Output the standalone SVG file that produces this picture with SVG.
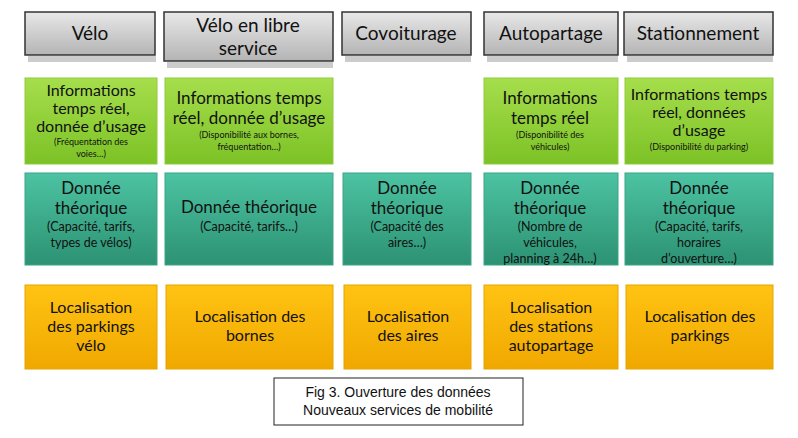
<svg xmlns="http://www.w3.org/2000/svg" width="798" height="438" viewBox="0 0 798 438">
<defs>
<linearGradient id="gh" x1="0" y1="0" x2="0" y2="1"><stop offset="0" stop-color="#e8e8e8"/><stop offset="1" stop-color="#b4b4b4"/></linearGradient>
<linearGradient id="gg" x1="0" y1="0" x2="0" y2="1"><stop offset="0" stop-color="#a6de4c"/><stop offset="1" stop-color="#7cc226"/></linearGradient>
<linearGradient id="gt" x1="0" y1="0" x2="0" y2="1"><stop offset="0" stop-color="#4cc3a2"/><stop offset="1" stop-color="#2c9273"/></linearGradient>
<linearGradient id="go" x1="0" y1="0" x2="0" y2="1"><stop offset="0" stop-color="#ffc313"/><stop offset="1" stop-color="#f0a800"/></linearGradient>
</defs>
<style>
text{font-family:Lato,"Open Sans","Liberation Sans",sans-serif;fill:#111;text-anchor:middle}
.h{fill:url(#gh);stroke:#333;stroke-width:1.5}
.sh{fill:#ccc}
.g{fill:url(#gg);stroke:#8fcb3a;stroke-width:1}
.t{fill:url(#gt);stroke:#3aa585;stroke-width:1}
.o{fill:url(#go);stroke:#e6a400;stroke-width:1}
.ht{font-size:19px}
.b{font-size:16px}
.bl{font-size:17px}
.s{font-size:9px}
.m{font-size:12.5px}
.c{font-family:"Liberation Sans",Arial,sans-serif;font-size:14px}
</style>
<g id="headers">
<g id="h1"><rect class="sh" x="28" y="56" width="128" height="6"/><rect class="h" x="25" y="12" width="130" height="43"/><text class="ht" x="90" y="40">Vélo</text></g>
<g id="h2"><rect class="sh" x="167" y="62" width="166" height="6"/><rect class="h" x="164" y="12" width="169" height="49"/><text class="ht" x="248" y="32">Vélo en libre</text><text class="ht" x="248" y="55">service</text></g>
<g id="h3"><rect class="sh" x="345" y="56" width="126" height="6"/><rect class="h" x="342" y="12" width="129" height="43"/><text class="ht" x="406" y="40">Covoiturage</text></g>
<g id="h4"><rect class="sh" x="487" y="56" width="131" height="6"/><rect class="h" x="484" y="12" width="134" height="43"/><text class="ht" x="551" y="40">Autopartage</text></g>
<g id="h5"><rect class="sh" x="627" y="56" width="146" height="6"/><rect class="h" x="624" y="12" width="149" height="43"/><text class="ht" x="698" y="40">Stationnement</text></g>
</g>
<g id="green">
<g id="g1"><rect class="g" x="25" y="78" width="132" height="86"/><text class="b" x="91" y="96">Informations</text><text class="b" x="91" y="114">temps réel,</text><text class="b" x="91" y="132">donnée d’usage</text><text class="s" x="91" y="145">(Fréquentation des</text><text class="s" x="91" y="157">voies…)</text></g>
<g id="g2"><rect class="g" x="165" y="78" width="168" height="86"/><text class="bl" x="249" y="104">Informations temps</text><text class="bl" x="249" y="124">réel, donnée d’usage</text><text class="s" x="249" y="138">(Disponibilité aux bornes,</text><text class="s" x="249" y="150">fréquentation…)</text></g>
<g id="g4"><rect class="g" x="484" y="78" width="134" height="86"/><text class="bl" x="550" y="104">Informations</text><text class="bl" x="550" y="124">temps réel</text><text class="s" x="550" y="138">(Disponibilité des</text><text class="s" x="550" y="150">véhicules)</text></g>
<g id="g5"><rect class="g" x="625" y="78" width="148" height="86"/><text class="b" x="699" y="100">Informations temps</text><text class="b" x="699" y="118">réel, données</text><text class="b" x="699" y="136">d’usage</text><text class="s" x="699" y="150">(Disponibilité du parking)</text></g>
</g>
<g id="teal">
<g id="t1"><rect class="t" x="25" y="173" width="132" height="92"/><text class="bl" x="91" y="194">Donnée</text><text class="bl" x="91" y="214">théorique</text><text class="m" x="91" y="231">(Capacité, tarifs,</text><text class="m" x="91" y="247">types de vélos)</text></g>
<g id="t2"><rect class="t" x="165" y="173" width="168" height="92"/><text class="bl" x="249" y="213">Donnée théorique</text><text class="m" x="249" y="231">(Capacité, tarifs…)</text></g>
<g id="t3"><rect class="t" x="343" y="173" width="128" height="92"/><text class="bl" x="407" y="194">Donnée</text><text class="bl" x="407" y="214">théorique</text><text class="m" x="407" y="231">(Capacité des</text><text class="m" x="407" y="247">aires…)</text></g>
<g id="t4"><rect class="t" x="484" y="173" width="134" height="92"/><text class="bl" x="550" y="194">Donnée</text><text class="bl" x="550" y="214">théorique</text><text class="m" x="550" y="231">(Nombre de</text><text class="m" x="550" y="247">véhicules,</text><text class="m" x="550" y="263">planning à 24h…)</text></g>
<g id="t5"><rect class="t" x="625" y="173" width="148" height="92"/><text class="bl" x="699" y="194">Donnée</text><text class="bl" x="699" y="214">théorique</text><text class="m" x="699" y="231">(Capacité, tarifs,</text><text class="m" x="699" y="247">horaires</text><text class="m" x="699" y="263">d’ouverture…)</text></g>
</g>
<g id="orange">
<g id="o1"><rect class="o" x="25" y="285" width="132" height="84"/><text class="b" x="91" y="313">Localisation</text><text class="b" x="91" y="332">des parkings</text><text class="b" x="91" y="351">vélo</text></g>
<g id="o2"><rect class="o" x="166" y="285" width="167" height="84"/><text class="b" x="250" y="322">Localisation des</text><text class="b" x="250" y="341">bornes</text></g>
<g id="o3"><rect class="o" x="344" y="285" width="127" height="84"/><text class="b" x="408" y="322">Localisation</text><text class="b" x="408" y="341">des aires</text></g>
<g id="o4"><rect class="o" x="484" y="285" width="134" height="84"/><text class="b" x="551" y="313">Localisation</text><text class="b" x="551" y="332">des stations</text><text class="b" x="551" y="351">autopartage</text></g>
<g id="o5"><rect class="o" x="626" y="285" width="147" height="84"/><text class="b" x="700" y="322">Localisation des</text><text class="b" x="700" y="341">parkings</text></g>
</g>
<g id="caption"><rect x="274" y="378" width="249" height="47" fill="#fff" stroke="#222" stroke-width="1"/><text class="c" x="398" y="397">Fig 3. Ouverture des données</text><text class="c" x="398" y="415">Nouveaux services de mobilité</text></g>
</svg>
